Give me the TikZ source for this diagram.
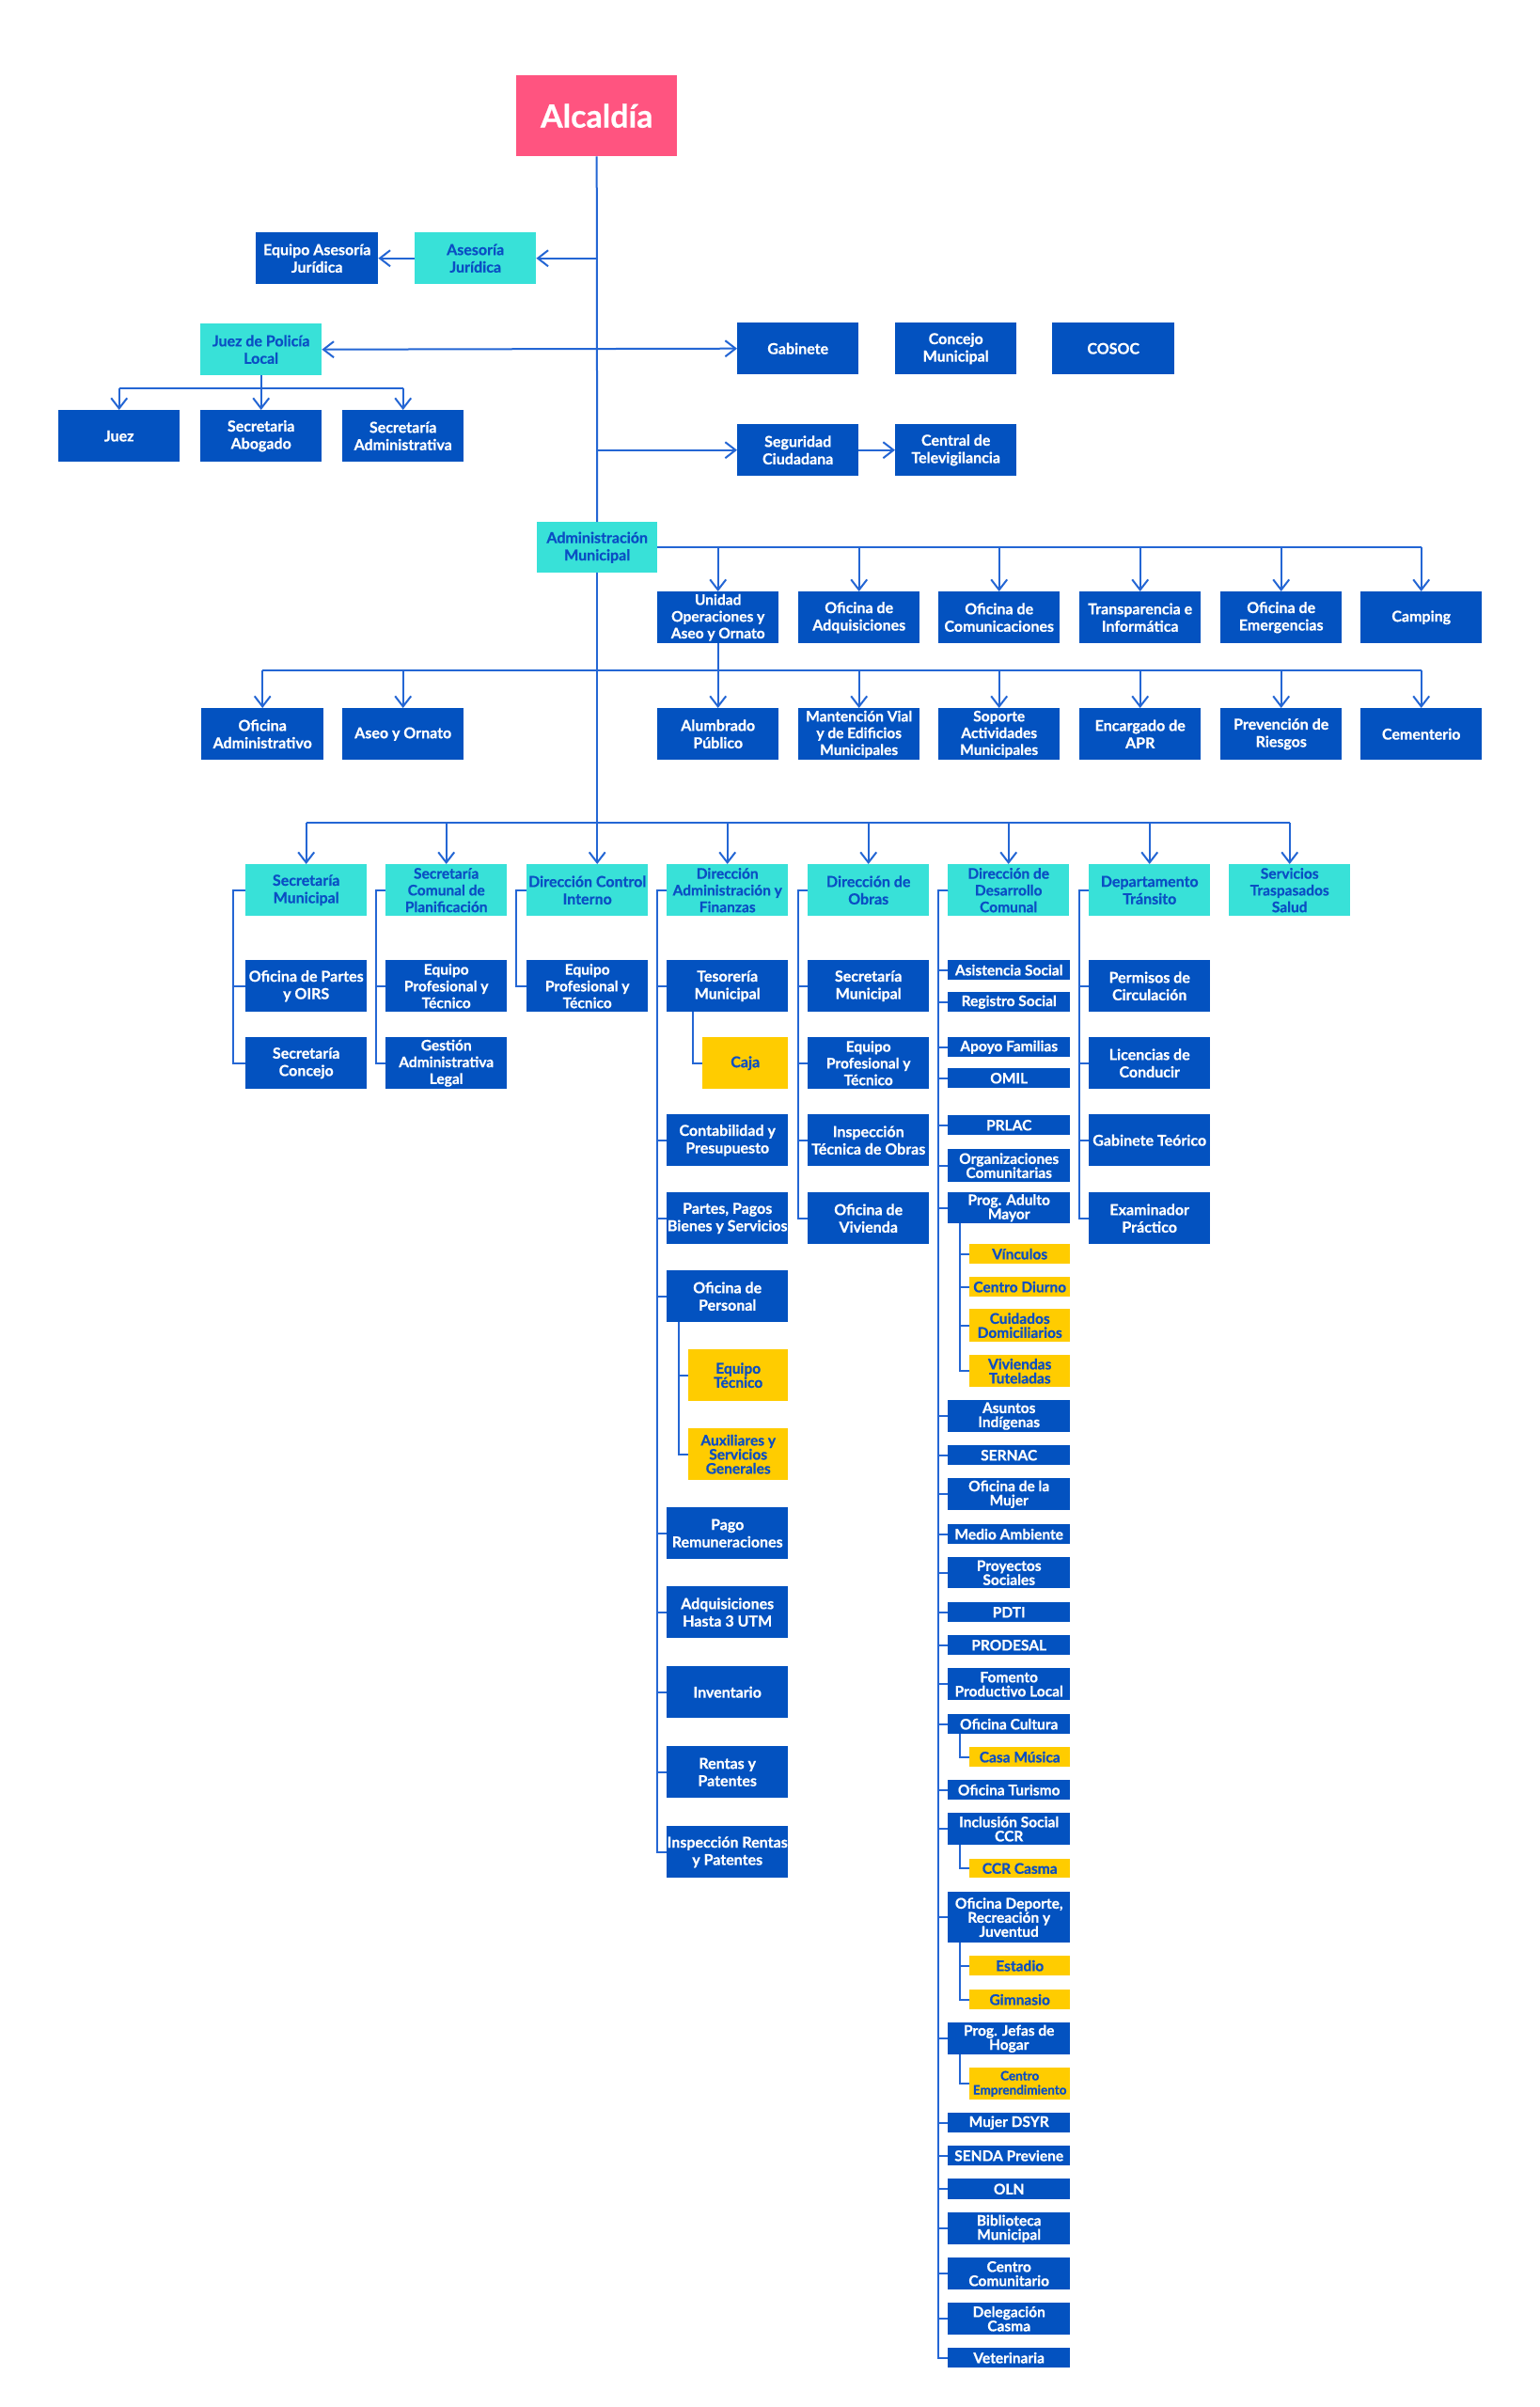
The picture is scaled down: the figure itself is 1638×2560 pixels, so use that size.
\documentclass[tikz,border=0pt]{standalone}
\usepackage{fontspec}
\setmainfont{Lato}[BoldFeatures={FakeBold=0.6}]
\usetikzlibrary{arrows.meta}
\definecolor{dkb}{RGB}{3,82,192}
\definecolor{cyb}{RGB}{56,225,216}
\definecolor{ylb}{RGB}{255,204,0}
\definecolor{pkb}{RGB}{255,84,128}
\definecolor{lnb}{RGB}{36,102,212}
\definecolor{txb}{RGB}{10,78,196}
\newcommand\obox[7]{\node[#1,anchor=north west,minimum width=#5pt,minimum height=#6pt] (#2) at (#3,#4) {#7};}
\newcommand\brk[3]{\foreach \c in {#3} \draw[ln] (#1.west) -- ([xshift=-#2pt]#1.west) |- (\c.west);}
\newcommand\sbrk[3]{\foreach \c in {#3} \draw[ln] ([xshift=#2pt]#1.south west) |- (\c.west);}
\begin{document}
\begin{tikzpicture}[x=1pt,y=-1pt,
  bx/.style={rectangle,inner sep=0pt,align=center,font=\bfseries\fontsize{16}{18.5}\selectfont},
  db/.style={bx,fill=dkb,text=white},
  cy/.style={bx,fill=cyb,text=txb},
  yl/.style={bx,fill=ylb,text=txb},
  pk/.style={bx,fill=pkb,text=white,font=\bfseries\fontsize{34}{38}\selectfont},
  sm/.style={font=\bfseries\fontsize{15.5}{17.8}\selectfont},
  dd/.style={font=\bfseries\fontsize{15.5}{15}\selectfont},
  ln/.style={draw=lnb,line width=2pt},
  arr/.style={ln,-{Straight Barb[length=11pt,width=17pt]}},
  darr/.style={ln,{Straight Barb[length=11pt,width=17pt]}-{Straight Barb[length=11pt,width=17pt]}}]
\fill[white] (0,0) rectangle (1638,2560);
\path[use as bounding box] (0,0) rectangle (1638,2560);
% top
\obox{pk}{alc}{549}{80}{171}{86}{Alcaldía}
\obox{db}{eaj}{272}{247}{130}{55}{Equipo Asesoría\\Jurídica}
\obox{cy}{ase}{441}{247}{129}{55}{Asesoría\\Jurídica}
\obox{cy}{jpl}{213}{344}{129}{55}{Juez de Policía\\Local}
\obox{db}{juez}{62}{436}{129}{55}{Juez}
\obox{db}{sabo}{213}{436}{129}{55}{Secretaria\\Abogado}
\obox{db}{sadm}{364}{436}{129}{55}{Secretaría\\Administrativa}
\obox{db}{gab}{784}{343}{129}{55}{Gabinete}
\obox{db}{cmun}{952}{343}{129}{55}{Concejo\\Municipal}
\obox{db}{cosoc}{1119}{343}{130}{55}{COSOC}
\obox{db}{seg}{784}{451}{129}{55}{Seguridad\\Ciudadana}
\obox{db}{ctv}{952}{451}{129}{55}{Central de\\Televigilancia}
\obox{cy}{adm}{571}{555}{128}{54}{Administración\\Municipal}
% row 1
\obox{db,sm}{uop}{699}{629}{129}{55}{Unidad\\Operaciones y\\Aseo y Ornato}
\obox{db}{adq}{849}{629}{129}{55}{Oficina de\\Adquisiciones}
\obox{db}{com}{998}{629}{129}{55}{Oficina de\\Comunicaciones}
\obox{db}{tra}{1148}{629}{129}{55}{Transparencia e\\Informática}
\obox{db}{eme}{1298}{629}{129}{55}{Oficina de\\Emergencias}
\obox{db}{camp}{1447}{629}{129}{55}{Camping}
% row 2
\obox{db}{ofad}{214}{753}{130}{55}{Oficina\\Administrativo}
\obox{db}{aseo}{364}{753}{129}{55}{Aseo y Ornato}
\obox{db}{alu}{699}{753}{129}{55}{Alumbrado\\Público}
\obox{db,sm}{man}{849}{753}{129}{55}{Mantención Vial\\y de Edificios\\Municipales}
\obox{db,sm}{sop}{998}{753}{129}{55}{Soporte\\Actividades\\Municipales}
\obox{db}{apr}{1148}{753}{129}{55}{Encargado de\\APR}
\obox{db}{prev}{1298}{753}{129}{55}{Prevención de\\Riesgos}
\obox{db}{cem}{1447}{753}{129}{55}{Cementerio}
% directions
\obox{cy}{smun}{261}{919}{129}{55}{Secretaría\\Municipal}
\obox{cy,sm}{plan}{410}{919}{129}{55}{Secretaría\\Comunal de\\Planificación}
\obox{cy}{dci}{560}{919}{129}{55}{Dirección Control\\Interno}
\obox{cy,sm}{daf}{709}{919}{129}{55}{Dirección\\Administración y\\Finanzas}
\obox{cy}{obr}{859}{919}{129}{55}{Dirección de\\Obras}
\obox{cy,sm}{dideco}{1008}{919}{129}{55}{Dirección de\\Desarrollo\\Comunal}
\obox{cy}{tran}{1158}{919}{129}{55}{Departamento\\Tránsito}
\obox{cy,sm}{sal}{1307}{919}{129}{55}{Servicios\\Traspasados\\Salud}
% Sec Mun / Plan / DCI
\obox{db}{opo}{261}{1021}{129}{55}{Oficina de Partes\\y OIRS}
\obox{db}{scon}{261}{1103}{129}{55}{Secretaría\\Concejo}
\obox{db,sm}{ept1}{410}{1021}{129}{55}{Equipo\\Profesional y\\Técnico}
\obox{db,sm}{gal}{410}{1103}{129}{55}{Gestión\\Administrativa\\Legal}
\obox{db,sm}{ept2}{560}{1021}{129}{55}{Equipo\\Profesional y\\Técnico}
% DAF
\obox{db}{tes}{709}{1021}{129}{55}{Tesorería\\Municipal}
\obox{yl}{caja}{747}{1103}{91}{55}{Caja}
\obox{db}{cont}{709}{1185}{129}{55}{Contabilidad y\\Presupuesto}
\obox{db}{ppb}{709}{1268}{129}{55}{Partes, Pagos\\Bienes y Servicios}
\obox{db}{pers}{709}{1351}{129}{55}{Oficina de\\Personal}
\obox{yl,dd}{etec}{732}{1435}{106}{55}{Equipo\\Técnico}
\obox{yl,dd}{aux}{732}{1519}{106}{55}{Auxiliares y\\Servicios\\Generales}
\obox{db}{prem}{709}{1603}{129}{55}{Pago\\Remuneraciones}
\obox{db}{adq3}{709}{1687}{129}{55}{Adquisiciones\\Hasta 3 UTM}
\obox{db}{inv}{709}{1772}{129}{55}{Inventario}
\obox{db}{rpat}{709}{1857}{129}{55}{Rentas y\\Patentes}
\obox{db}{irp}{709}{1942}{129}{55}{Inspección Rentas\\y Patentes}
% Obras
\obox{db}{smo}{859}{1021}{129}{55}{Secretaría\\Municipal}
\obox{db,sm}{ept3}{859}{1103}{129}{55}{Equipo\\Profesional y\\Técnico}
\obox{db}{ito}{859}{1185}{129}{55}{Inspección\\Técnica de Obras}
\obox{db}{ovi}{859}{1268}{129}{55}{Oficina de\\Vivienda}
% Transito
\obox{db}{pci}{1158}{1021}{129}{55}{Permisos de\\Circulación}
\obox{db}{lco}{1158}{1103}{129}{55}{Licencias de\\Conducir}
\obox{db}{gte}{1158}{1185}{129}{55}{Gabinete Teórico}
\obox{db}{epr}{1158}{1268}{129}{55}{Examinador\\Práctico}
% DIDECO
\obox{db,dd}{asi}{1008}{1021}{130}{21}{Asistencia Social}
\obox{db,dd}{rso}{1008}{1055}{130}{21}{Registro Social}
\obox{db,dd}{apf}{1008}{1103}{130}{21}{Apoyo Familias}
\obox{db,dd}{omil}{1008}{1136}{130}{21}{OMIL}
\obox{db,dd}{prlac}{1008}{1186}{130}{21}{PRLAC}
\obox{db,dd}{orgc}{1008}{1222}{130}{35}{Organizaciones\\Comunitarias}
\obox{db,dd}{pam}{1008}{1268}{130}{33}{Prog. Adulto\\Mayor}
\obox{yl,dd}{vin}{1031}{1323}{107}{21}{Vínculos}
\obox{yl,dd}{cdi}{1031}{1358}{107}{21}{Centro Diurno}
\obox{yl,dd}{cdo}{1031}{1392}{107}{35}{Cuidados\\Domiciliarios}
\obox{yl,dd}{vtu}{1031}{1441}{107}{34}{Viviendas\\Tuteladas}
\obox{db,dd}{aind}{1008}{1489}{130}{34}{Asuntos\\Indígenas}
\obox{db,dd}{sernac}{1008}{1537}{130}{21}{SERNAC}
\obox{db,dd}{omuj}{1008}{1572}{130}{34}{Oficina de la\\Mujer}
\obox{db,dd}{mamb}{1008}{1621}{130}{21}{Medio Ambiente}
\obox{db,dd}{psoc}{1008}{1656}{130}{33}{Proyectos\\Sociales}
\obox{db,dd}{pdti}{1008}{1704}{130}{21}{PDTI}
\obox{db,dd}{prod}{1008}{1739}{130}{21}{PRODESAL}
\obox{db,dd}{fpl}{1008}{1774}{130}{34}{Fomento\\Productivo Local}
\obox{db,dd}{ocul}{1008}{1823}{130}{21}{Oficina Cultura}
\obox{yl,dd}{cmus}{1031}{1858}{107}{21}{Casa Música}
\obox{db,dd}{otur}{1008}{1893}{130}{21}{Oficina Turismo}
\obox{db,dd}{isc}{1008}{1928}{130}{34}{Inclusión Social\\CCR}
\obox{yl,dd}{ccrc}{1031}{1977}{107}{20}{CCR Casma}
\obox{db,dd}{odep}{1008}{2012}{130}{54}{Oficina Deporte,\\Recreación y\\Juventud}
\obox{yl,dd}{esta}{1031}{2080}{107}{21}{Estadio}
\obox{yl,dd}{gimn}{1031}{2116}{107}{21}{Gimnasio}
\obox{db,dd}{pjh}{1008}{2151}{130}{34}{Prog. Jefas de\\Hogar}
\obox{yl,font=\bfseries\fontsize{13.5}{15}\selectfont}{cemp}{1031}{2199}{107}{34}{Centro\\Emprendimiento}
\obox{db,dd}{mdsyr}{1008}{2247}{130}{21}{Mujer DSYR}
\obox{db,dd}{senda}{1008}{2282}{130}{21}{SENDA Previene}
\obox{db,dd}{oln}{1008}{2317}{130}{22}{OLN}
\obox{db,dd}{bib}{1008}{2353}{130}{34}{Biblioteca\\Municipal}
\obox{db,dd}{ccom}{1008}{2401}{130}{34}{Centro\\Comunitario}
\obox{db,dd}{dcas}{1008}{2449}{130}{34}{Delegación\\Casma}
\obox{db,dd}{vet}{1008}{2497}{130}{21}{Veterinaria}
% connectors top
\coordinate (jb) at (0,413);
\coordinate (b2) at (0,713);
\coordinate (b3) at (0,875);
\draw[ln] (alc.south) -- (adm.north);
\draw[arr] (alc.south |- ase.east) -- (ase.east);
\draw[arr] (ase.west) -- (eaj.east);
\draw[darr] (jpl.east) -- (gab.west);
\draw[arr] (alc.south |- seg.west) -- (seg.west);
\draw[arr] (seg.east) -- (ctv.west);
\draw[ln] (jpl.south) -- (jpl.south |- jb);
\draw[ln] (juez.north |- jb) -- (sadm.north |- jb);
\foreach \n in {juez,sabo,sadm} \draw[arr] (\n.north |- jb) -- (\n.north);
% admin branches
\draw[ln] (adm.east) -- (camp.north |- adm.east);
\foreach \n in {uop,adq,com,tra,eme,camp} \draw[arr] (\n.north |- adm.east) -- (\n.north);
\draw[ln] (ofad.north |- b2) -- (cem.north |- b2);
\foreach \n in {ofad,aseo,man,sop,apr,prev,cem} \draw[arr] (\n.north |- b2) -- (\n.north);
\draw[arr] (uop.south) -- (alu.north);
\draw[arr] (adm.south) -- (adm.south |- dci.north);
\draw[ln] (smun.north |- b3) -- (sal.north |- b3);
\foreach \n in {smun,plan,daf,obr,dideco,tran,sal} \draw[arr] (\n.north |- b3) -- (\n.north);
% brackets
\brk{smun}{13}{opo,scon}
\brk{plan}{10}{ept1,gal}
\brk{dci}{11}{ept2}
\brk{daf}{10}{tes,cont,ppb,pers,prem,adq3,inv,rpat,irp}
\brk{obr}{10}{smo,ept3,ito,ovi}
\brk{tran}{10}{pci,lco,gte,epr}
\brk{dideco}{10}{asi,rso,apf,omil,prlac,orgc,pam,aind,sernac,omuj,mamb,psoc,pdti,prod,fpl,ocul,otur,isc,odep,pjh,mdsyr,senda,oln,bib,ccom,dcas,vet}
\sbrk{tes}{28}{caja}
\sbrk{pers}{13}{etec,aux}
\sbrk{pam}{13}{vin,cdi,cdo,vtu}
\sbrk{ocul}{13}{cmus}
\sbrk{isc}{13}{ccrc}
\sbrk{odep}{13}{esta,gimn}
\sbrk{pjh}{13}{cemp}
\end{tikzpicture}
\end{document}
